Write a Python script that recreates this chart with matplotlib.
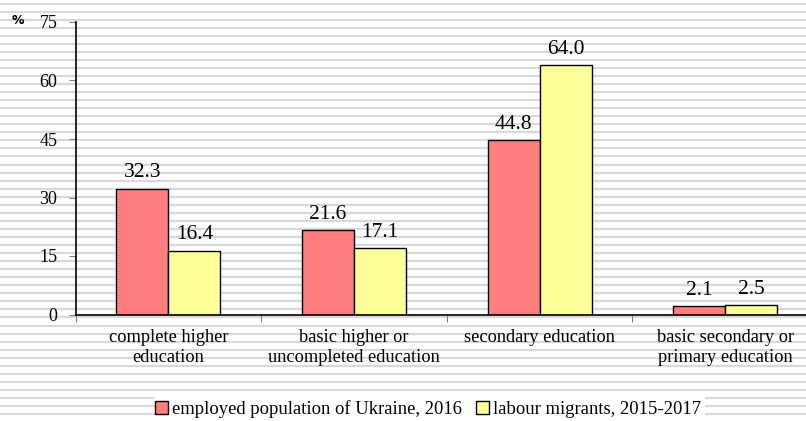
import numpy as np
import matplotlib.pyplot as plt
from matplotlib.patches import Rectangle

# -----------------------------
# DATA
# -----------------------------
categories = ["complete higher\neducation",
              "basic higher or\nuncompleted education",
              "secondary education",
              "basic secondary or\nprimary education"]
employed = [32.3, 21.6, 44.8, 2.1]
migrants = [16.4, 17.1, 64.0, 2.5]
series_names = ["employed population of Ukraine, 2016",
                "labour migrants, 2015-2017"]
yticks = [0, 15, 30, 45, 60, 75]

plt.rcParams['font.family'] = ['Liberation Serif', 'DejaVu Serif']

W, H = 806, 421
fig = plt.figure(figsize=(W / 100, H / 100), dpi=100)

# striped background (figure-wide)
bg = fig.add_axes([0, 0, 1, 1], zorder=-10)
bg.set_xlim(0, W)
bg.set_ylim(H, 0)
bg.axis("off")
for yy in np.arange(3.5, H, 8.05):
    bg.axhline(yy, color="#d9d9d9", linewidth=1.6)
# white legend box
bg.add_patch(Rectangle((155, 394), 550, 30, facecolor="white", edgecolor="none", zorder=5))

# -----------------------------
# MAIN AXES
# -----------------------------
left, right, top, bottom = 75.5, 818, 22, 314.5
ax = fig.add_axes([left / W, 1 - bottom / H, (right - left) / W, (bottom - top) / H])
ax.patch.set_alpha(0)

x = np.arange(len(categories))
bw = 0.28
b1 = ax.bar(x - bw / 2, employed, bw, color="#ff7f7f", edgecolor="black", linewidth=1.0,
            label=series_names[0])
b2 = ax.bar(x + bw / 2, migrants, bw, color="#ffff99", edgecolor="black", linewidth=1.0,
            label=series_names[1])

for bars, vals in [(b1, employed), (b2, migrants)]:
    for rect, v in zip(bars, vals):
        ax.annotate(f"{v:.1f}", (rect.get_x() + rect.get_width() / 2, v),
                    xytext=(0, 8), textcoords="offset points",
                    ha="center", va="baseline", fontsize=15.5)

ax.set_xlim(-0.5, len(categories) - 0.5)
ax.set_ylim(0, 75)
ax.set_yticks(yticks)
ax.tick_params(axis="y", labelsize=13, length=5, color="#808080", pad=8)

ax.set_xticks(np.arange(len(categories) + 1) - 0.5)
ax.set_xticklabels([])
ax.tick_params(axis="x", length=5, color="#808080")
for i, c in enumerate(categories):
    ax.annotate(c, (i, 0), xytext=(0, -10.5), textcoords="offset points",
                ha="center", va="top", fontsize=13.2, linespacing=1.2)

for s in ["top", "right"]:
    ax.spines[s].set_visible(False)
for s in ["left", "bottom"]:
    ax.spines[s].set_linewidth(1.2)

fig.text(18 / W, 1 - 21 / H, "%", fontsize=9, fontweight="bold",
         family="DejaVu Sans", ha="center", va="center")

fig.legend(handles=[b1, b2], loc="center", bbox_to_anchor=(428 / W, 1 - 409 / H),
           ncol=2, frameon=False, fontsize=13.4, handlelength=0.7, handleheight=0.7,
           handletextpad=0.2, columnspacing=0.8)

fig.savefig("out.png", dpi=100)
